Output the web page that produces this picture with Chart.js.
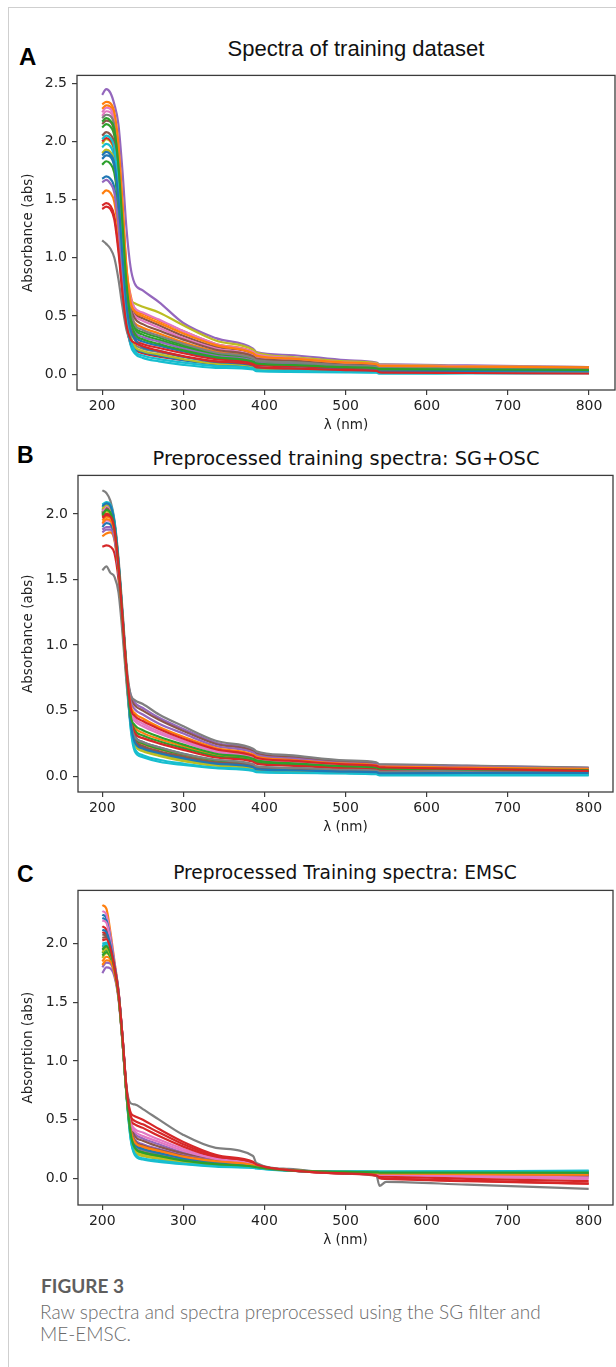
<!DOCTYPE html>
<html>
<head>
<meta charset="utf-8">
<title>Figure 3</title>
<script src="https://cdn.jsdelivr.net/npm/chart.js@4.4.1/dist/chart.umd.min.js"></script>
<style>
  html, body { margin: 0; padding: 0; background: #fff; }
  body { width: 616px; height: 1367px; position: relative; overflow: hidden; }
  .frame { position: absolute; left: 8px; top: 7px; width: 700px; height: 1400px;
           border-top: 1px solid #cfcfcf; border-left: 1px solid #cfcfcf; }
  .panel { position: absolute; }
  .letter { position: absolute; font-family: "Liberation Sans", Arial, sans-serif;
            font-weight: bold; line-height: 1; color: #000; }
  .title { position: absolute; white-space: nowrap; line-height: 1; color: #111;
           transform: translateX(-50%); }
  .cap { position: absolute; font-family: Lato, "Open Sans", sans-serif; white-space: nowrap; }
</style>
</head>
<body>
<div class="frame"></div>

<div class="letter" style="left:19px; top:45px; font-size:24px;">A</div>
<div class="title" style="left:356px; top:38px; font-size:22px; font-family:'Liberation Sans', Arial, sans-serif;">Spectra of training dataset</div>
<canvas id="chartA" class="panel" style="left:0; top:62px;" width="616" height="376"></canvas>

<div class="letter" style="left:17px; top:444px; font-size:23px;">B</div>
<div class="title" style="left:346px; top:449px; font-size:19.4px; font-family:'DejaVu Sans', sans-serif;">Preprocessed training spectra: SG+OSC</div>
<canvas id="chartB" class="panel" style="left:0; top:462px;" width="616" height="378"></canvas>

<div class="letter" style="left:17px; top:863px; font-size:23px;">C</div>
<div class="title" style="left:345px; top:864px; font-size:18.6px; font-family:'DejaVu Sans', sans-serif;">Preprocessed Training spectra: EMSC</div>
<canvas id="chartC" class="panel" style="left:0; top:877px;" width="616" height="376"></canvas>

<div class="cap" style="left:41px; top:1276px; font-size:19px; font-weight:bold; color:#5e5e5e; line-height:1;">FIGURE 3</div>
<div class="cap" style="left:40px; top:1301px; font-size:19px; font-weight:300; color:#6a6a6a; line-height:22px;">Raw spectra and spectra preprocessed using the SG filter and<br>ME-EMSC.</div>

<script>
(function () {
  'use strict';

  // wavelength grid (nm) shared by every spectrum
  var wavelengths = [200, 205, 210, 215, 220, 225, 230, 235, 240, 250, 270, 300, 340, 386, 390, 430, 500, 538, 542, 550, 650, 800];

  var xTicks = [200, 300, 400, 500, 600, 700, 800];
  var yTicksA = [0.0, 0.5, 1.0, 1.5, 2.0, 2.5];
  var yTicksB = [0.0, 0.5, 1.0, 1.5, 2.0];
  var yTicksC = [0.0, 0.5, 1.0, 1.5, 2.0];

  // A: raw spectra
  var spectraA = [
    [1.85, 1.88, 1.87, 1.78, 1.45, 0.95, 0.55, 0.40, 0.32, 0.28, 0.245, 0.195, 0.137, 0.10, 0.087, 0.075, 0.056, 0.048, 0.04, 0.04, 0.036, 0.032],
    [2.28, 2.31, 2.30, 2.22, 1.95, 1.45, 0.90, 0.68, 0.56, 0.52, 0.46, 0.37, 0.26, 0.19, 0.165, 0.14, 0.10, 0.085, 0.075, 0.075, 0.065, 0.055],
    [2.12, 2.15, 2.13, 2.05, 1.75, 1.25, 0.75, 0.52, 0.39, 0.34, 0.295, 0.235, 0.167, 0.122, 0.105, 0.092, 0.068, 0.058, 0.049, 0.049, 0.045, 0.04],
    [1.45, 1.47, 1.45, 1.36, 1.10, 0.72, 0.42, 0.26, 0.21, 0.18, 0.15, 0.12, 0.09, 0.065, 0.045, 0.04, 0.03, 0.025, 0.012, 0.012, 0.01, 0.008],
    [2.40, 2.45, 2.42, 2.32, 2.15, 1.75, 1.25, 0.92, 0.78, 0.72, 0.62, 0.44, 0.31, 0.22, 0.19, 0.165, 0.12, 0.10, 0.085, 0.085, 0.075, 0.06],
    [2.05, 2.08, 2.06, 1.98, 1.68, 1.18, 0.72, 0.58, 0.52, 0.48, 0.42, 0.33, 0.235, 0.175, 0.15, 0.13, 0.095, 0.08, 0.07, 0.07, 0.065, 0.06],
    [2.22, 2.26, 2.25, 2.17, 1.88, 1.38, 0.85, 0.58, 0.50, 0.46, 0.40, 0.31, 0.22, 0.16, 0.14, 0.12, 0.09, 0.08, 0.065, 0.065, 0.06, 0.055],
    [1.15, 1.12, 1.08, 1.00, 0.82, 0.58, 0.38, 0.28, 0.25, 0.22, 0.19, 0.15, 0.11, 0.08, 0.06, 0.05, 0.04, 0.035, 0.025, 0.025, 0.03, 0.035],
    [1.98, 2.02, 2.00, 1.92, 1.66, 1.20, 0.80, 0.64, 0.61, 0.58, 0.53, 0.42, 0.29, 0.21, 0.185, 0.15, 0.11, 0.095, 0.08, 0.08, 0.07, 0.06],
    [1.95, 1.98, 1.96, 1.86, 1.50, 0.95, 0.48, 0.25, 0.18, 0.14, 0.11, 0.08, 0.055, 0.04, 0.025, 0.02, 0.015, 0.013, 0.004, 0.004, 0.006, 0.008],
    [1.68, 1.70, 1.68, 1.60, 1.30, 0.85, 0.48, 0.28, 0.22, 0.19, 0.16, 0.12, 0.085, 0.06, 0.045, 0.04, 0.03, 0.028, 0.02, 0.02, 0.02, 0.02],
    [1.55, 1.58, 1.56, 1.48, 1.22, 0.82, 0.52, 0.50, 0.44, 0.40, 0.35, 0.275, 0.196, 0.144, 0.124, 0.108, 0.08, 0.068, 0.058, 0.058, 0.052, 0.046],
    [1.80, 1.83, 1.81, 1.73, 1.45, 1.00, 0.60, 0.48, 0.40, 0.36, 0.315, 0.25, 0.176, 0.13, 0.112, 0.097, 0.072, 0.061, 0.052, 0.052, 0.047, 0.042],
    [2.00, 2.03, 2.01, 1.93, 1.62, 1.12, 0.65, 0.40, 0.30, 0.26, 0.225, 0.18, 0.128, 0.094, 0.08, 0.07, 0.052, 0.044, 0.034, 0.033, 0.025, 0.018],
    [1.65, 1.67, 1.64, 1.56, 1.28, 0.86, 0.52, 0.44, 0.36, 0.32, 0.28, 0.22, 0.157, 0.115, 0.10, 0.086, 0.064, 0.054, 0.046, 0.046, 0.042, 0.038],
    [2.15, 2.18, 2.17, 2.09, 1.80, 1.32, 0.82, 0.58, 0.48, 0.43, 0.375, 0.297, 0.21, 0.155, 0.133, 0.116, 0.086, 0.073, 0.062, 0.062, 0.058, 0.055],
    [2.25, 2.29, 2.28, 2.20, 1.92, 1.42, 0.88, 0.66, 0.57, 0.53, 0.47, 0.37, 0.26, 0.19, 0.17, 0.14, 0.10, 0.088, 0.075, 0.075, 0.068, 0.06],
    [2.20, 2.23, 2.22, 2.14, 1.84, 1.34, 0.84, 0.55, 0.43, 0.38, 0.33, 0.262, 0.186, 0.137, 0.118, 0.103, 0.076, 0.065, 0.055, 0.055, 0.055, 0.058],
    [1.90, 1.93, 1.91, 1.83, 1.52, 1.04, 0.60, 0.34, 0.24, 0.20, 0.17, 0.13, 0.09, 0.065, 0.048, 0.042, 0.032, 0.03, 0.022, 0.022, 0.024, 0.025],
    [2.02, 2.05, 2.03, 1.94, 1.58, 1.02, 0.55, 0.30, 0.20, 0.16, 0.13, 0.10, 0.07, 0.05, 0.033, 0.028, 0.02, 0.018, 0.01, 0.01, 0.012, 0.015],
    [1.88, 1.91, 1.89, 1.81, 1.50, 1.02, 0.60, 0.38, 0.30, 0.23, 0.20, 0.15, 0.105, 0.075, 0.058, 0.05, 0.038, 0.033, 0.025, 0.025, 0.028, 0.03],
    [2.32, 2.34, 2.33, 2.25, 1.98, 1.48, 0.92, 0.62, 0.54, 0.50, 0.44, 0.35, 0.25, 0.18, 0.16, 0.135, 0.10, 0.085, 0.072, 0.072, 0.065, 0.058],
    [2.17, 2.20, 2.18, 2.10, 1.80, 1.30, 0.78, 0.48, 0.35, 0.30, 0.26, 0.205, 0.147, 0.108, 0.093, 0.08, 0.06, 0.051, 0.043, 0.043, 0.04, 0.036],
    [1.42, 1.44, 1.42, 1.33, 1.06, 0.70, 0.42, 0.30, 0.27, 0.24, 0.20, 0.155, 0.11, 0.08, 0.06, 0.05, 0.035, 0.028, 0.015, 0.013, 0.01, 0.006]
  ];

  // B: SG + OSC
  var spectraB = [
    [2.00, 2.04, 2.02, 1.89, 1.60, 1.20, 0.78, 0.42, 0.27, 0.22, 0.18, 0.14, 0.10, 0.07, 0.055, 0.045, 0.035, 0.03, 0.022, 0.022, 0.022, 0.022],
    [1.83, 1.85, 1.86, 1.80, 1.55, 1.17, 0.76, 0.45, 0.37, 0.33, 0.283, 0.228, 0.162, 0.125, 0.112, 0.095, 0.072, 0.063, 0.055, 0.055, 0.05, 0.045],
    [2.03, 2.07, 2.05, 1.92, 1.62, 1.22, 0.80, 0.45, 0.35, 0.31, 0.266, 0.214, 0.152, 0.118, 0.105, 0.09, 0.068, 0.059, 0.05, 0.05, 0.047, 0.043],
    [1.75, 1.76, 1.75, 1.70, 1.50, 1.14, 0.74, 0.40, 0.26, 0.21, 0.17, 0.13, 0.095, 0.07, 0.055, 0.045, 0.035, 0.03, 0.02, 0.02, 0.018, 0.015],
    [1.88, 1.90, 1.90, 1.82, 1.57, 1.18, 0.78, 0.62, 0.56, 0.52, 0.445, 0.36, 0.255, 0.20, 0.18, 0.15, 0.115, 0.10, 0.087, 0.087, 0.078, 0.064],
    [2.01, 2.05, 2.03, 1.90, 1.61, 1.21, 0.80, 0.60, 0.54, 0.50, 0.43, 0.345, 0.245, 0.19, 0.17, 0.145, 0.11, 0.095, 0.083, 0.083, 0.075, 0.062],
    [1.92, 1.95, 1.94, 1.85, 1.58, 1.19, 0.79, 0.50, 0.44, 0.40, 0.34, 0.27, 0.195, 0.148, 0.133, 0.112, 0.085, 0.074, 0.065, 0.065, 0.06, 0.052],
    [2.18, 2.16, 2.10, 1.95, 1.66, 1.26, 0.84, 0.62, 0.58, 0.55, 0.47, 0.38, 0.27, 0.21, 0.19, 0.16, 0.12, 0.105, 0.09, 0.09, 0.08, 0.065],
    [1.98, 2.02, 2.00, 1.88, 1.59, 1.19, 0.77, 0.40, 0.24, 0.19, 0.155, 0.115, 0.08, 0.055, 0.04, 0.034, 0.025, 0.022, 0.013, 0.013, 0.012, 0.012],
    [2.05, 2.08, 2.06, 1.93, 1.62, 1.20, 0.76, 0.36, 0.19, 0.145, 0.11, 0.085, 0.06, 0.04, 0.03, 0.025, 0.02, 0.015, 0.006, 0.006, 0.006, 0.006],
    [1.90, 1.93, 1.92, 1.84, 1.57, 1.18, 0.78, 0.44, 0.31, 0.26, 0.22, 0.17, 0.12, 0.088, 0.07, 0.06, 0.045, 0.04, 0.032, 0.032, 0.032, 0.03],
    [1.95, 1.98, 1.97, 1.87, 1.59, 1.19, 0.78, 0.43, 0.29, 0.245, 0.205, 0.16, 0.115, 0.082, 0.066, 0.056, 0.042, 0.037, 0.028, 0.028, 0.028, 0.028],
    [2.01, 2.05, 2.03, 1.90, 1.61, 1.21, 0.79, 0.44, 0.30, 0.25, 0.21, 0.165, 0.12, 0.085, 0.07, 0.058, 0.044, 0.039, 0.03, 0.03, 0.03, 0.03],
    [1.98, 2.00, 1.99, 1.89, 1.60, 1.20, 0.79, 0.46, 0.33, 0.29, 0.25, 0.20, 0.142, 0.11, 0.095, 0.08, 0.06, 0.052, 0.043, 0.04, 0.032, 0.022],
    [1.86, 1.88, 1.88, 1.81, 1.56, 1.17, 0.77, 0.57, 0.51, 0.47, 0.40, 0.325, 0.23, 0.18, 0.16, 0.135, 0.10, 0.088, 0.077, 0.077, 0.07, 0.058],
    [2.00, 2.04, 2.02, 1.89, 1.60, 1.20, 0.78, 0.42, 0.28, 0.23, 0.19, 0.15, 0.105, 0.076, 0.06, 0.05, 0.038, 0.034, 0.026, 0.026, 0.028, 0.03],
    [2.02, 2.06, 2.04, 1.91, 1.62, 1.22, 0.80, 0.48, 0.42, 0.38, 0.325, 0.26, 0.185, 0.14, 0.126, 0.106, 0.08, 0.07, 0.061, 0.061, 0.057, 0.05],
    [1.57, 1.60, 1.55, 1.52, 1.40, 1.08, 0.70, 0.40, 0.30, 0.26, 0.22, 0.17, 0.125, 0.09, 0.075, 0.063, 0.048, 0.042, 0.035, 0.035, 0.04, 0.045],
    [2.04, 2.07, 2.05, 1.92, 1.62, 1.21, 0.78, 0.41, 0.25, 0.20, 0.165, 0.125, 0.088, 0.062, 0.048, 0.04, 0.03, 0.026, 0.018, 0.018, 0.02, 0.022],
    [2.07, 2.09, 2.07, 1.94, 1.63, 1.21, 0.77, 0.38, 0.21, 0.16, 0.125, 0.095, 0.066, 0.046, 0.035, 0.029, 0.022, 0.018, 0.01, 0.01, 0.01, 0.01],
    [2.06, 2.08, 2.06, 1.93, 1.63, 1.22, 0.79, 0.41, 0.26, 0.21, 0.175, 0.135, 0.095, 0.068, 0.053, 0.045, 0.034, 0.03, 0.022, 0.022, 0.024, 0.025],
    [1.93, 1.96, 1.95, 1.86, 1.58, 1.19, 0.79, 0.54, 0.48, 0.44, 0.375, 0.30, 0.215, 0.165, 0.15, 0.125, 0.095, 0.082, 0.072, 0.072, 0.065, 0.055],
    [1.99, 2.03, 2.01, 1.89, 1.60, 1.20, 0.79, 0.46, 0.39, 0.35, 0.30, 0.24, 0.171, 0.133, 0.12, 0.10, 0.076, 0.066, 0.058, 0.058, 0.052, 0.046],
    [1.97, 1.99, 1.98, 1.88, 1.60, 1.20, 0.80, 0.52, 0.46, 0.42, 0.36, 0.285, 0.205, 0.155, 0.14, 0.118, 0.09, 0.078, 0.068, 0.066, 0.055, 0.04]
  ];

  // C: EMSC
  var spectraC = [
    [2.25, 2.22, 2.05, 1.82, 1.58, 1.18, 0.72, 0.40, 0.28, 0.24, 0.21, 0.175, 0.14, 0.11, 0.10, 0.07, 0.05, 0.045, 0.043, 0.043, 0.04, 0.035],
    [2.33, 2.30, 2.10, 1.85, 1.60, 1.20, 0.73, 0.42, 0.32, 0.28, 0.24, 0.19, 0.15, 0.115, 0.105, 0.072, 0.05, 0.045, 0.043, 0.042, 0.037, 0.03],
    [1.92, 1.95, 1.90, 1.78, 1.56, 1.17, 0.71, 0.38, 0.25, 0.21, 0.185, 0.155, 0.125, 0.10, 0.095, 0.068, 0.055, 0.052, 0.05, 0.05, 0.05, 0.048],
    [2.15, 2.12, 2.00, 1.82, 1.59, 1.20, 0.75, 0.56, 0.53, 0.50, 0.42, 0.31, 0.20, 0.14, 0.12, 0.07, 0.04, 0.02, 0.0, -0.005, -0.025, -0.045],
    [1.75, 1.80, 1.79, 1.72, 1.53, 1.15, 0.72, 0.45, 0.38, 0.34, 0.29, 0.22, 0.16, 0.12, 0.105, 0.07, 0.045, 0.038, 0.03, 0.03, 0.02, 0.01],
    [2.05, 2.06, 1.98, 1.80, 1.57, 1.18, 0.73, 0.45, 0.36, 0.32, 0.27, 0.21, 0.155, 0.117, 0.10, 0.07, 0.048, 0.042, 0.036, 0.036, 0.03, 0.022],
    [2.28, 2.25, 2.07, 1.84, 1.60, 1.20, 0.74, 0.48, 0.42, 0.39, 0.33, 0.25, 0.17, 0.125, 0.11, 0.07, 0.045, 0.035, 0.025, 0.024, 0.012, -0.005],
    [1.95, 1.97, 1.93, 1.80, 1.58, 1.20, 0.77, 0.64, 0.63, 0.59, 0.50, 0.37, 0.26, 0.19, 0.13, 0.08, 0.04, 0.025, -0.065, -0.03, -0.055, -0.09],
    [1.88, 1.92, 1.88, 1.77, 1.55, 1.16, 0.70, 0.36, 0.23, 0.19, 0.165, 0.135, 0.115, 0.095, 0.09, 0.066, 0.057, 0.055, 0.054, 0.054, 0.055, 0.055],
    [2.00, 2.01, 1.95, 1.79, 1.56, 1.16, 0.69, 0.33, 0.20, 0.16, 0.14, 0.12, 0.10, 0.088, 0.084, 0.065, 0.06, 0.06, 0.058, 0.058, 0.06, 0.065],
    [2.22, 2.20, 2.04, 1.82, 1.59, 1.19, 0.73, 0.41, 0.30, 0.26, 0.225, 0.18, 0.14, 0.11, 0.10, 0.07, 0.05, 0.046, 0.043, 0.043, 0.042, 0.04],
    [1.85, 1.89, 1.87, 1.76, 1.55, 1.16, 0.71, 0.40, 0.30, 0.265, 0.23, 0.185, 0.145, 0.112, 0.10, 0.07, 0.05, 0.045, 0.04, 0.04, 0.036, 0.03],
    [1.90, 1.93, 1.89, 1.78, 1.56, 1.17, 0.71, 0.39, 0.27, 0.23, 0.20, 0.16, 0.13, 0.105, 0.097, 0.069, 0.053, 0.05, 0.047, 0.047, 0.046, 0.045],
    [2.10, 2.08, 1.98, 1.81, 1.58, 1.19, 0.74, 0.50, 0.46, 0.43, 0.36, 0.27, 0.18, 0.13, 0.115, 0.07, 0.042, 0.03, 0.015, 0.013, -0.005, -0.025],
    [1.80, 1.84, 1.83, 1.74, 1.54, 1.15, 0.71, 0.42, 0.33, 0.29, 0.25, 0.195, 0.15, 0.115, 0.10, 0.07, 0.048, 0.043, 0.037, 0.037, 0.033, 0.028],
    [2.08, 2.07, 1.97, 1.80, 1.57, 1.18, 0.72, 0.42, 0.32, 0.28, 0.24, 0.19, 0.145, 0.112, 0.10, 0.07, 0.05, 0.045, 0.04, 0.04, 0.036, 0.03],
    [2.20, 2.18, 2.03, 1.82, 1.59, 1.19, 0.74, 0.46, 0.40, 0.36, 0.31, 0.235, 0.165, 0.12, 0.105, 0.07, 0.046, 0.038, 0.03, 0.03, 0.02, 0.006],
    [1.97, 1.99, 1.94, 1.79, 1.57, 1.17, 0.71, 0.39, 0.28, 0.24, 0.21, 0.17, 0.135, 0.105, 0.097, 0.068, 0.052, 0.049, 0.046, 0.046, 0.045, 0.043],
    [1.93, 1.96, 1.91, 1.78, 1.56, 1.16, 0.70, 0.37, 0.24, 0.20, 0.175, 0.145, 0.12, 0.098, 0.092, 0.067, 0.056, 0.054, 0.052, 0.052, 0.053, 0.053],
    [1.98, 2.00, 1.94, 1.79, 1.56, 1.16, 0.69, 0.34, 0.21, 0.17, 0.15, 0.125, 0.105, 0.09, 0.086, 0.066, 0.059, 0.058, 0.057, 0.057, 0.059, 0.062],
    [2.12, 2.10, 1.99, 1.81, 1.58, 1.18, 0.72, 0.40, 0.29, 0.25, 0.215, 0.17, 0.135, 0.107, 0.098, 0.069, 0.051, 0.047, 0.044, 0.044, 0.043, 0.04],
    [1.82, 1.86, 1.85, 1.75, 1.55, 1.16, 0.71, 0.41, 0.31, 0.27, 0.235, 0.185, 0.145, 0.112, 0.10, 0.07, 0.05, 0.045, 0.04, 0.04, 0.035, 0.03],
    [1.95, 1.98, 1.92, 1.79, 1.56, 1.17, 0.71, 0.38, 0.26, 0.22, 0.19, 0.15, 0.12, 0.10, 0.094, 0.068, 0.054, 0.051, 0.049, 0.049, 0.049, 0.048],
    [2.03, 2.04, 1.96, 1.80, 1.58, 1.20, 0.76, 0.53, 0.49, 0.46, 0.39, 0.29, 0.19, 0.135, 0.118, 0.07, 0.041, 0.025, 0.005, 0.0, -0.02, -0.045]
  ];

  var tab10 = [
    '#1f77b4', //(blue)
    '#ff7f0e', //(orange)
    '#2ca02c', //(green)
    '#d62728', //(red)
    '#9467bd', //(purple)
    '#8c564b', //(brown)
    '#e377c2', //(pink)
    '#7f7f7f', //(gray)
    '#bcbd22', //(olive)
    '#17becf'  //(cyan)
  ];

  var spineColor = '#3c3c3c';
  var tickFont = { family: 'DejaVu Sans', size: 14 };
  var labelFont = { family: 'DejaVu Sans', size: 13.5 };

  // matplotlib draws all four spines
  var framePlugin = {
    id: 'frame',
    afterDatasetsDraw: function (chart) {
      var a = chart.chartArea;
      var ctx = chart.ctx;
      ctx.save();
      ctx.strokeStyle = spineColor;
      ctx.lineWidth = 1.3;
      ctx.strokeRect(a.left, a.top, a.right - a.left, a.bottom - a.top);
      ctx.restore();
    }
  };

  var drawPanel = function (id, spectra, yTicks, yMin, yMax, xMin, xMax, yTitle, yAxisWidth, padRight) {
    var datasets = [];
    for (var i = 0; i < spectra.length; i++) {
      datasets.push({
        data: wavelengths.map(function (w, j) { return { x: w, y: spectra[i][j] }; }),
        borderColor: tab10[i % tab10.length],
        borderWidth: 2.2,
        pointRadius: 0,
        fill: false,
        cubicInterpolationMode: 'monotone',
        order: -i // later spectra on top, like matplotlib
      });
    }

    var ctx = document.getElementById(id).getContext('2d');
    return new Chart(ctx, {
      type: 'line',
      data: { datasets: datasets },
      plugins: [framePlugin],
      options: {
        responsive: false,
        animation: false,
        events: [],
        layout: { padding: { top: 10, right: padRight, left: 0, bottom: 0 } },
        plugins: { legend: { display: false }, tooltip: { enabled: false }, title: { display: false } },
        scales: {
          x: {
            type: 'linear',
            min: xMin,
            max: xMax,
            afterBuildTicks: function (s) { s.ticks = xTicks.map(function (v) { return { value: v }; }); },
            afterFit: function (s) { s.height = 48; },
            border: { display: false },
            grid: { display: true, drawOnChartArea: false, drawTicks: true, tickLength: 5, color: spineColor, lineWidth: 1.2 },
            ticks: { autoSkip: false, maxRotation: 0, padding: 3, color: '#222', font: tickFont },
            title: { display: true, text: 'λ (nm)', color: '#222', font: labelFont, padding: { top: 0, bottom: 4 } }
          },
          y: {
            type: 'linear',
            min: yMin,
            max: yMax,
            afterBuildTicks: function (s) { s.ticks = yTicks.map(function (v) { return { value: v }; }); },
            afterFit: function (s) { s.width = yAxisWidth; },
            border: { display: false },
            grid: { display: true, drawOnChartArea: false, drawTicks: true, tickLength: 5, color: spineColor, lineWidth: 1.2 },
            ticks: {
              autoSkip: false, padding: 5, color: '#222', font: tickFont,
              callback: function (v) { return v.toFixed(1); }
            },
            title: { display: true, text: yTitle, color: '#222', font: labelFont, padding: { top: 20, bottom: 0 } }
          }
        }
      }
    });
  };

  drawPanel('chartA', spectraA, yTicksA, -0.136, 2.568, 169, 832, 'Absorbance (abs)', 77, 1);
  drawPanel('chartB', spectraB, yTicksB, -0.121, 2.294, 170, 830, 'Absorbance (abs)', 78, 3);
  drawPanel('chartC', spectraC, yTicksC, -0.228, 2.456, 170, 830, 'Absorption (abs)', 78, 3);
})();
</script>
</body>
</html>
